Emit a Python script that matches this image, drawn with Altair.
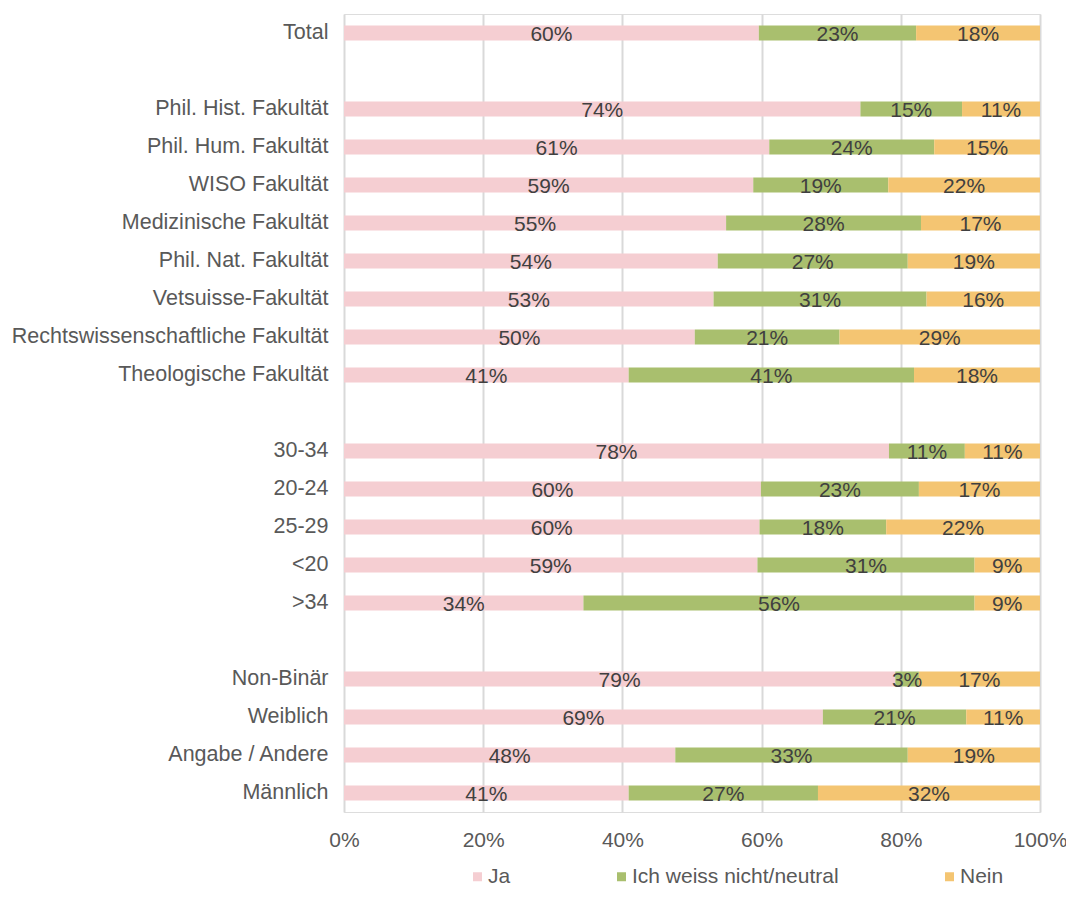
import altair as alt
import pandas as pd

# Row order of the chart (blank strings are spacer rows between groups)
row_order = ["Total", " ",
             "Phil. Hist. Fakultät", "Phil. Hum. Fakultät", "WISO Fakultät",
             "Medizinische Fakultät", "Phil. Nat. Fakultät", "Vetsuisse-Fakultät",
             "Rechtswissenschaftliche Fakultät", "Theologische Fakultät", "  ",
             "30-34", "20-24", "25-29", "<20", ">34", "   ",
             "Non-Binär", "Weiblich", "Angabe / Andere", "Männlich"]

categories = ["Total",
              "Phil. Hist. Fakultät", "Phil. Hum. Fakultät", "WISO Fakultät",
              "Medizinische Fakultät", "Phil. Nat. Fakultät", "Vetsuisse-Fakultät",
              "Rechtswissenschaftliche Fakultät", "Theologische Fakultät",
              "30-34", "20-24", "25-29", "<20", ">34",
              "Non-Binär", "Weiblich", "Angabe / Andere", "Männlich"]

ja      = [59.6, 74.2, 61.1, 58.8, 54.9, 53.7, 53.1, 50.4, 40.9,
           78.3, 59.9, 59.7, 59.4, 34.4, 79.2, 68.8, 47.6, 40.9]
neutral = [22.6, 14.6, 23.7, 19.4, 28.0, 27.3, 30.6, 20.8, 41.0,
           10.9, 22.7, 18.2, 31.2, 56.2, 3.4, 20.6, 33.4, 27.2]
nein    = [17.8, 11.2, 15.2, 21.8, 17.1, 19.0, 16.3, 28.8, 18.1,
           10.8, 17.4, 22.1, 9.4, 9.4, 17.4, 10.6, 19.0, 31.9]

responses = ["Ja", "Ich weiss nicht/neutral", "Nein"]
colors = ["#F5CED2", "#A9BF6E", "#F4C572"]

rows = []
for i, c in enumerate(categories):
    for k, (r, vals) in enumerate(zip(responses, [ja, neutral, nein])):
        rows.append({"cat": c, "resp": r, "value": vals[i], "order": k})
df = pd.DataFrame(rows)

FONT = "Liberation Sans"

y_axis = alt.Axis(title=None, labelFontSize=21.5, labelColor="#595959", labelPadding=16,
                  ticks=False, domain=False, labelLimit=400, labelFont=FONT, grid=False)
x_axis = alt.Axis(title=None, values=[0, 20, 40, 60, 80, 100], labelExpr="datum.value + '%'",
                  grid=True, gridColor="#D9D9D9", gridWidth=2, ticks=False, domain=False,
                  labelFlush=False, labelFontSize=21, labelColor="#595959", labelPadding=17,
                  labelFont=FONT)
y_scale = alt.Scale(domain=row_order, paddingInner=0.605, paddingOuter=0.3025)
x_scale = alt.Scale(domain=[0, 100], nice=False)

base = alt.Chart(df).transform_stack(
    stack="value", groupby=["cat"], as_=["x0", "x1"],
    sort=[alt.SortField("order", order="ascending")]
).transform_calculate(
    mid="(datum.x0 + datum.x1) / 2",
    label="round(datum.value) + '%'"
)

bars = base.mark_bar().encode(
    y=alt.Y("cat:N", scale=y_scale, axis=y_axis, sort=row_order),
    x=alt.X("x0:Q", scale=x_scale, axis=x_axis),
    x2="x1:Q",
    color=alt.Color("resp:N", scale=alt.Scale(domain=responses, range=colors),
                    legend=alt.Legend(orient="none", legendX=123, legendY=852,
                                      direction="horizontal", title=None,
                                      symbolType="square", symbolSize=81,
                                      symbolStrokeWidth=0, labelFontSize=21,
                                      labelColor="#595959", labelFont=FONT,
                                      labelLimit=400,
                                      columnPadding=100, padding=0, labelOffset=0)),
)

text = base.mark_text(fontSize=21, color="#404040", baseline="middle", dy=1.5,
                      font=FONT).encode(
    y=alt.Y("cat:N", scale=y_scale, axis=y_axis, sort=row_order),
    x=alt.X("mid:Q", scale=x_scale, axis=x_axis),
    text="label:N",
)

chart = alt.layer(bars, text).properties(
    width=696, height=798,
    autosize=alt.AutoSizeParams(type="none"),
    padding={"left": 336, "top": 6, "right": 26, "bottom": 74}
).configure_view(stroke=None).configure(font=FONT)

chart.save("out.html", embed_options={"renderer": "svg", "actions": False})
